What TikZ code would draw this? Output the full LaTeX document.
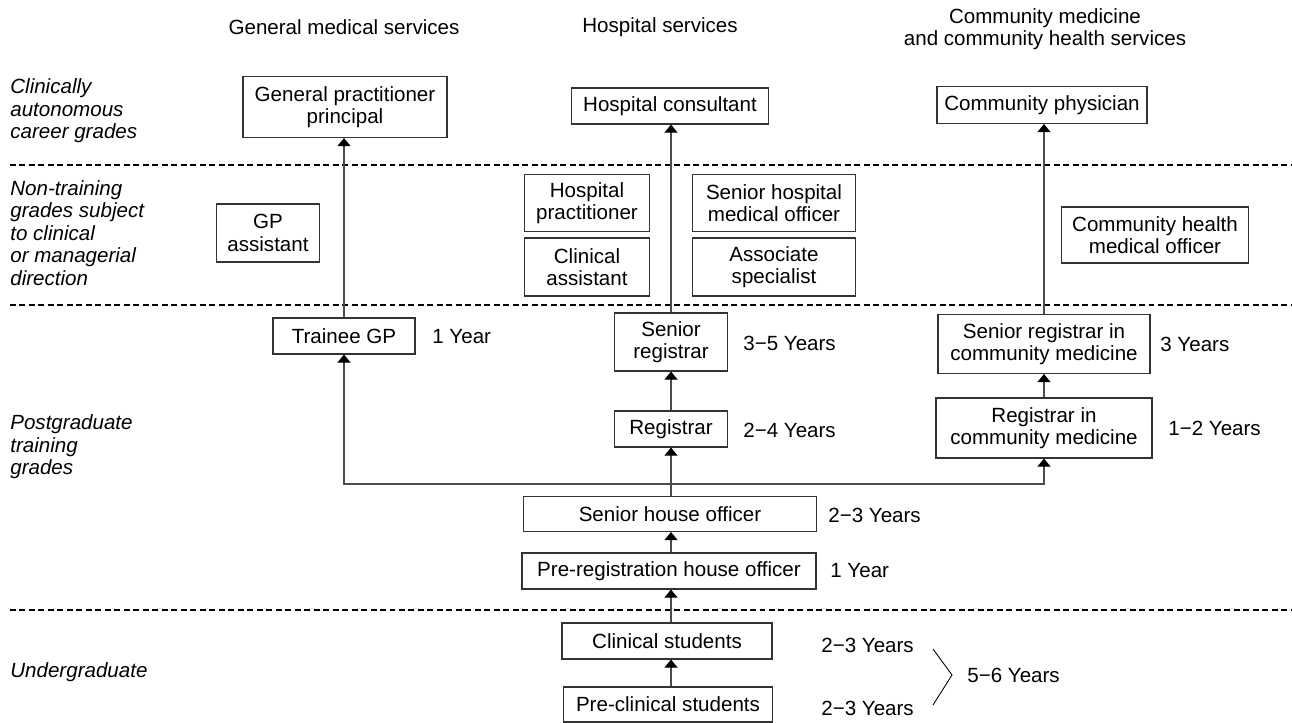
\documentclass[tikz,border=0pt]{standalone}
\usepackage{fontspec}
\setmainfont{Liberation Sans}
\usetikzlibrary{arrows.meta}

\newcommand{\gradefont}{\fontsize{11.7}{12.8}\selectfont}

\tikzset{
  grade/.style={draw=black!80, line width=0.6pt, align=center, inner sep=0pt, font=\gradefont},
  size/.style 2 args={minimum width=#1*0.02cm, minimum height=#2*0.02cm},
  period/.style={anchor=west, inner sep=0pt, font=\gradefont},
  band/.style={anchor=west, align=left, inner sep=0pt, font=\gradefont\itshape},
  header/.style={align=center, inner sep=0pt, font=\gradefont},
  divider/.style={dash pattern=on 3.4pt off 2pt, line width=0.6pt},
  up/.style={draw=black!70, line width=0.6pt, -{Triangle[width=7.4pt,length=4.6pt,color=black]}}
}

\begin{document}
\begin{tikzpicture}[x=0.02cm, y=-0.02cm]
  \useasboundingbox (0,0) rectangle (1292,723);

  % column headers
  \node[header] (hgms) at (344,27) {General medical services};
  \node[header] (hhs)  at (660,27) {Hospital services};
  \node[header] (hcm)  at (1045,29) {Community medicine\\and community health services};

  % bands
  \draw[divider] (10,165) -- (1292,165);
  \draw[divider] (10,305) -- (1292,305);
  \draw[divider] (10,610) -- (1292,610);
  \node[band] (bcareer) at (10,111) {Clinically\\autonomous\\career grades};
  \node[band] (bnontr)  at (10,233) {Non-training\\grades subject\\to clinical\\or managerial\\direction};
  \node[band] (bpost)   at (10,447) {Postgraduate\\training\\grades};
  \node[band] (bunder)  at (10,672) {Undergraduate};

  % career grades
  \node[grade, size={204}{61}] (gpp) at (345,107) {General practitioner\\principal};
  \node[grade, size={197}{36}] (hc)  at (670,106) {Hospital consultant};
  \node[grade, size={210}{37}] (cp)  at (1042,105) {Community physician};

  % non-training grades
  \node[grade, size={103}{58}] (gpa)  at (268,233) {GP\\assistant};
  \node[grade, size={125}{57}] (hp)   at (587,203) {Hospital\\practitioner};
  \node[grade, size={163}{57}] (shmo) at (774,203) {Senior hospital\\medical officer};
  \node[grade, size={125}{58}] (ca)   at (587,267) {Clinical\\assistant};
  \node[grade, size={163}{58}] (as)   at (774,267) {Associate\\specialist};
  \node[grade, size={187}{56}] (chmo) at (1155,235) {Community health\\medical officer};

  % training grades
  \node[grade, size={142}{36}] (tgp)  at (344,336) {Trainee GP};
  \node[grade, size={113}{58}] (sr)   at (671,342) {Senior\\registrar};
  \node[grade, size={212}{59}] (srcm) at (1044,344) {Senior registrar in\\community medicine};
  \node[grade, size={113}{36}] (reg)  at (671,429) {Registrar};
  \node[grade, size={216}{60}] (rcm)  at (1044,428) {Registrar in\\community medicine};
  \node[grade, size={293}{35}] (sho)  at (670,514) {Senior house officer};
  \node[grade, size={294}{36}] (prho) at (669,571) {Pre-registration house officer};

  % undergraduate
  \node[grade, size={210}{36}] (cs)  at (667,641) {Clinical students};
  \node[grade, size={209}{35}] (pcs) at (668,704.5) {Pre-clinical students};

  % durations
  \node[period] (ytgp)  at (432,337) {1 Year};
  \node[period] (ysr)   at (743,343) {3−5 Years};
  \node[period] (ysrcm) at (1160,344) {3 Years};
  \node[period] (yreg)  at (743,430) {2−4 Years};
  \node[period] (yrcm)  at (1168,428) {1−2 Years};
  \node[period] (ysho)  at (828,515) {2−3 Years};
  \node[period] (yprho) at (830,571) {1 Year};
  \node[period] (ycs)   at (821,645) {2−3 Years};
  \node[period] (ypcs)  at (821,708) {2−3 Years};
  \node[period] (yug)   at (967,675) {5−6 Years};
  \draw[line width=0.5pt] (933,649) -- (952,675) -- (933,705);

  % progression
  \coordinate (fork) at (671,484);
  \draw[up] (tgp.north) -- (tgp.north |- gpp.south);
  \draw[up] (sr.north) -- (sr.north |- hc.south);
  \draw[up] (srcm.north) -- (srcm.north |- cp.south);
  \draw[up] (reg.north) -- (sr.south);
  \draw[up] (rcm.north) -- (srcm.south);
  \draw[up] (sho.north -| reg.south) -- (reg.south);
  \draw[up] (fork) -| (tgp.south);
  \draw[up] (fork) -| (rcm.south);
  \draw[up] (prho.north -| reg.south) -- (sho.south -| reg.south);
  \draw[up] (cs.north -| reg.south) -- (prho.south -| reg.south);
  \draw[up] (pcs.north -| reg.south) -- (cs.south -| reg.south);
\end{tikzpicture}
\end{document}
